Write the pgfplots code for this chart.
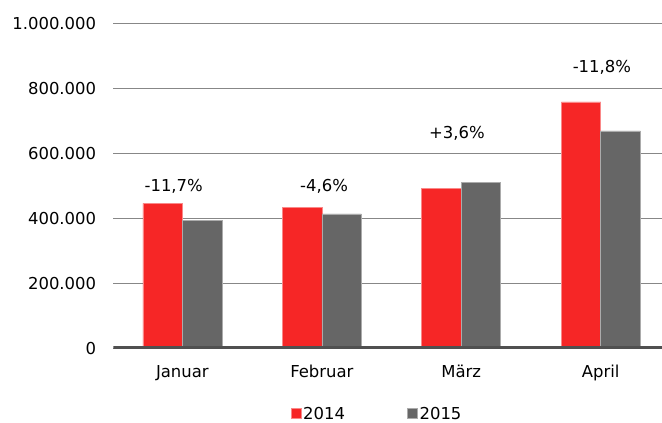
\documentclass[border=0pt]{standalone}
\usepackage{pgfplots}
\pgfplotsset{compat=1.18}
\usepackage{fontspec}
\setmainfont{DejaVu Sans}
\definecolor{cred}{RGB}{246,38,38}
\definecolor{cgray}{RGB}{102,102,102}
\definecolor{cgrid}{RGB}{135,135,135}
\definecolor{cbase}{RGB}{80,80,80}
\newcommand{\ff}{\fontsize{16.5}{19}\selectfont}
\begin{document}
\begin{tikzpicture}
\useasboundingbox (0,0) rectangle (662bp,423bp);
\begin{axis}[
  at={(113.3bp,74.5bp)}, anchor=south west,
  scale only axis, width=548.7bp, height=325bp,
  xmin=-0.495, xmax=3.439, ymin=0, ymax=1000000,
  axis line style={draw=none},
  xtick={0,1,2,3}, xticklabels={Januar,Februar,März,April},
  ytick={0,200000,400000,600000,800000,1000000},
  yticklabels={0,200.000,400.000,600.000,800.000,1.000.000},
  scaled y ticks=false,
  major tick length=0pt,
  ymajorgrids, grid style={cgrid, line width=1bp},
  tick label style={font=\ff},
  yticklabel style={anchor=east, inner sep=0pt, xshift=-17bp},
  xticklabel style={anchor=north, inner sep=0pt, yshift=-17bp, text height=12bp, text depth=3.5bp},
  legend columns=2,
  legend image code/.code={\fill[#1] (0bp,-4bp) rectangle (10bp,6bp);},
  legend style={at={(0.4806,-0.2015)}, anchor=center, draw=none, font=\ff,
    nodes={inner sep=2bp, text height=12bp, text depth=0pt},
    /tikz/every even column/.append style={column sep=60bp}},
]
\addplot[ybar, bar width=39.5bp, bar shift=-19.75bp, fill=cred, draw=cred!55!white, line width=0.6bp]
  coordinates {(0,446800) (1,434000) (2,491700) (3,759000)};
\addplot[ybar, bar width=39.5bp, bar shift=19.75bp, fill=cgray, draw=cgray!55!white, line width=0.6bp]
  coordinates {(0,395000) (1,414000) (2,510000) (3,669500)};
\legend{2014,2015}
\draw[cbase, line width=4.5bp] (rel axis cs:0,0) -- (rel axis cs:1,0);
\node[font=\ff] at (axis cs:-0.062,500000) {-11,7\%};
\node[font=\ff] at (axis cs:1.016,500000) {-4,6\%};
\node[font=\ff] at (axis cs:1.969,663000) {+3,6\%};
\node[font=\ff] at (axis cs:3.008,866000) {-11,8\%};
\end{axis}
\end{tikzpicture}
\end{document}
